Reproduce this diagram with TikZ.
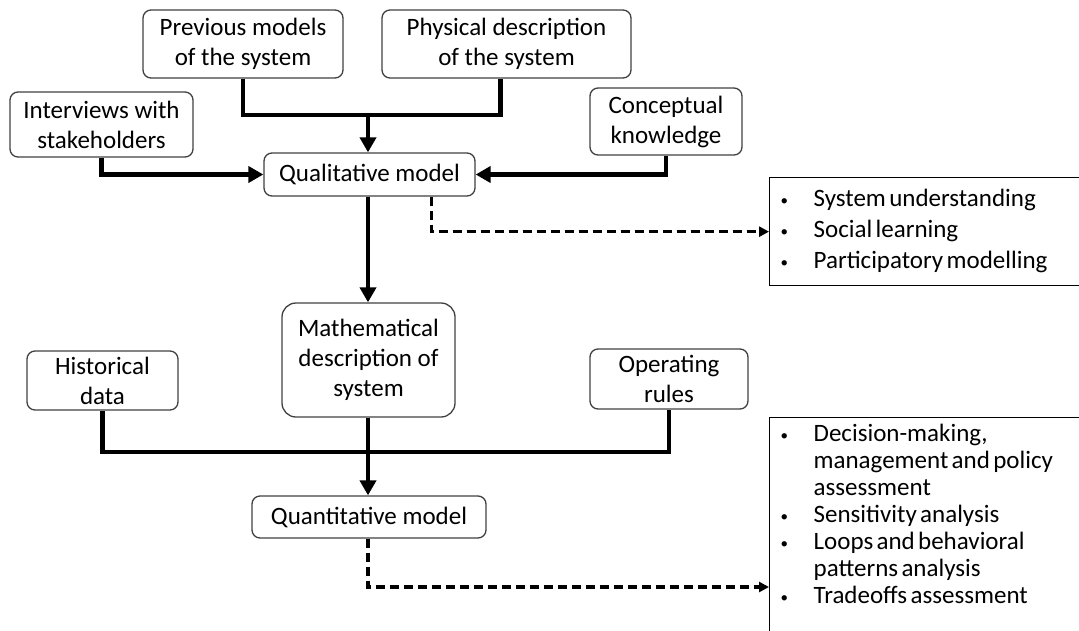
\documentclass[tikz,border=0pt]{standalone}
\usepackage{fontspec}
\setmainfont{Carlito}
\usetikzlibrary{arrows.meta,positioning}
\newcommand{\smallbullet}{\raisebox{1pt}{\scalebox{0.6}{\textbullet}}}

\begin{document}
\begin{tikzpicture}
				[
					x=1pt, y=-1pt,
					roundbox/.style={rectangle, rounded corners=8pt, draw=black!75, line width=1.3pt, inner sep=0pt, align=center, font=\fontsize{25}{30}\selectfont},
					listbox/.style={rectangle, draw=black, line width=1.3pt, anchor=north west, inner xsep=11pt, align=left, text width=310pt},
					thickline/.style={line width=4.5pt},
					thickarrow/.style={line width=4.5pt, -{Triangle[length=15pt,width=16pt]}},
					dasharrow/.style={line width=3.2pt, dash pattern=on 9pt off 5pt, -{Triangle[length=10pt,width=10pt]}},
				]

				\useasboundingbox (0,0) rectangle (1079,630);
				\clip (0,0) rectangle (1079,630);

				\node [roundbox, minimum width=200pt, minimum height=68pt] (previous) at (243,44) {Previous models\\of the system};
				\node [roundbox, minimum width=249pt, minimum height=68pt] (physical) at (506.5,44) {Physical description\\of the system};
				\node [roundbox, minimum width=183pt, minimum height=65pt] (interviews) at (101.5,124.5) {Interviews with\\stakeholders};
				\node [roundbox, minimum width=152pt, minimum height=67pt] (conceptual) at (666,121.5) {Conceptual\\knowledge};
				\node [roundbox, minimum width=211pt, minimum height=43pt] (qualitative) at (369.5,174.5) {Qualitative model};
				\node [roundbox, rounded corners=14pt, minimum width=173pt, minimum height=114pt] (mathdesc) at (368.5,360) {Mathematical\\description of\\system};
				\node [roundbox, minimum width=151pt, minimum height=59pt] (historical) at (102.5,380.5) {Historical\\data};
				\node [roundbox, minimum width=158pt, minimum height=60pt] (operating) at (669,379) {Operating\\rules};
				\node [roundbox, minimum width=234pt, minimum height=42pt] (quantitative) at (369,517) {Quantitative model};

				\node [listbox, minimum height=108pt] (qualuses) at (769,177) {\fontsize{25}{31}\selectfont\begin{tabular}{@{}p{33pt}@{}l@{}}
					\smallbullet & System understanding\\
					\smallbullet & Social learning\\
					\smallbullet & Participatory modelling
				\end{tabular}};
				\node [listbox, inner ysep=5pt] (quantuses) at (769,417) {\fontsize{25}{27}\selectfont\begin{tabular}{@{}p{33pt}@{}l@{}}
					\smallbullet & Decision-making,\\
					 & management and policy\\
					 & assessment\\
					\smallbullet & Sensitivity analysis\\
					\smallbullet & Loops and behavioral\\
					 & patterns analysis\\
					\smallbullet & Tradeoffs assessment\\[40pt]
				\end{tabular}};

				\coordinate (topjoin) at (368,115);
				\coordinate (botjoin) at (368,452);

				\draw[thickline] (previous.south) |- (topjoin) -| ([xshift=-6pt]physical.south);
				\draw[thickarrow] (topjoin) -- (qualitative.north -| topjoin);
				\draw[thickarrow] (interviews.south) |- (qualitative.west);
				\draw[thickarrow] (conceptual.south) |- (qualitative.east);
				\draw[thickarrow] (qualitative.south -| topjoin) -- (mathdesc.north -| topjoin);
				\draw[dasharrow] ([xshift=62pt]qualitative.south) |- (qualuses.west);

				\draw[thickline] (historical.south) |- (botjoin) -| (operating.south);
				\draw[thickarrow] (mathdesc.south -| botjoin) -- (quantitative.north -| botjoin);
				\draw[dasharrow] (quantitative.south -| botjoin) |- ([yshift=-170pt]quantuses.north west);

			\end{tikzpicture}
\end{document}
